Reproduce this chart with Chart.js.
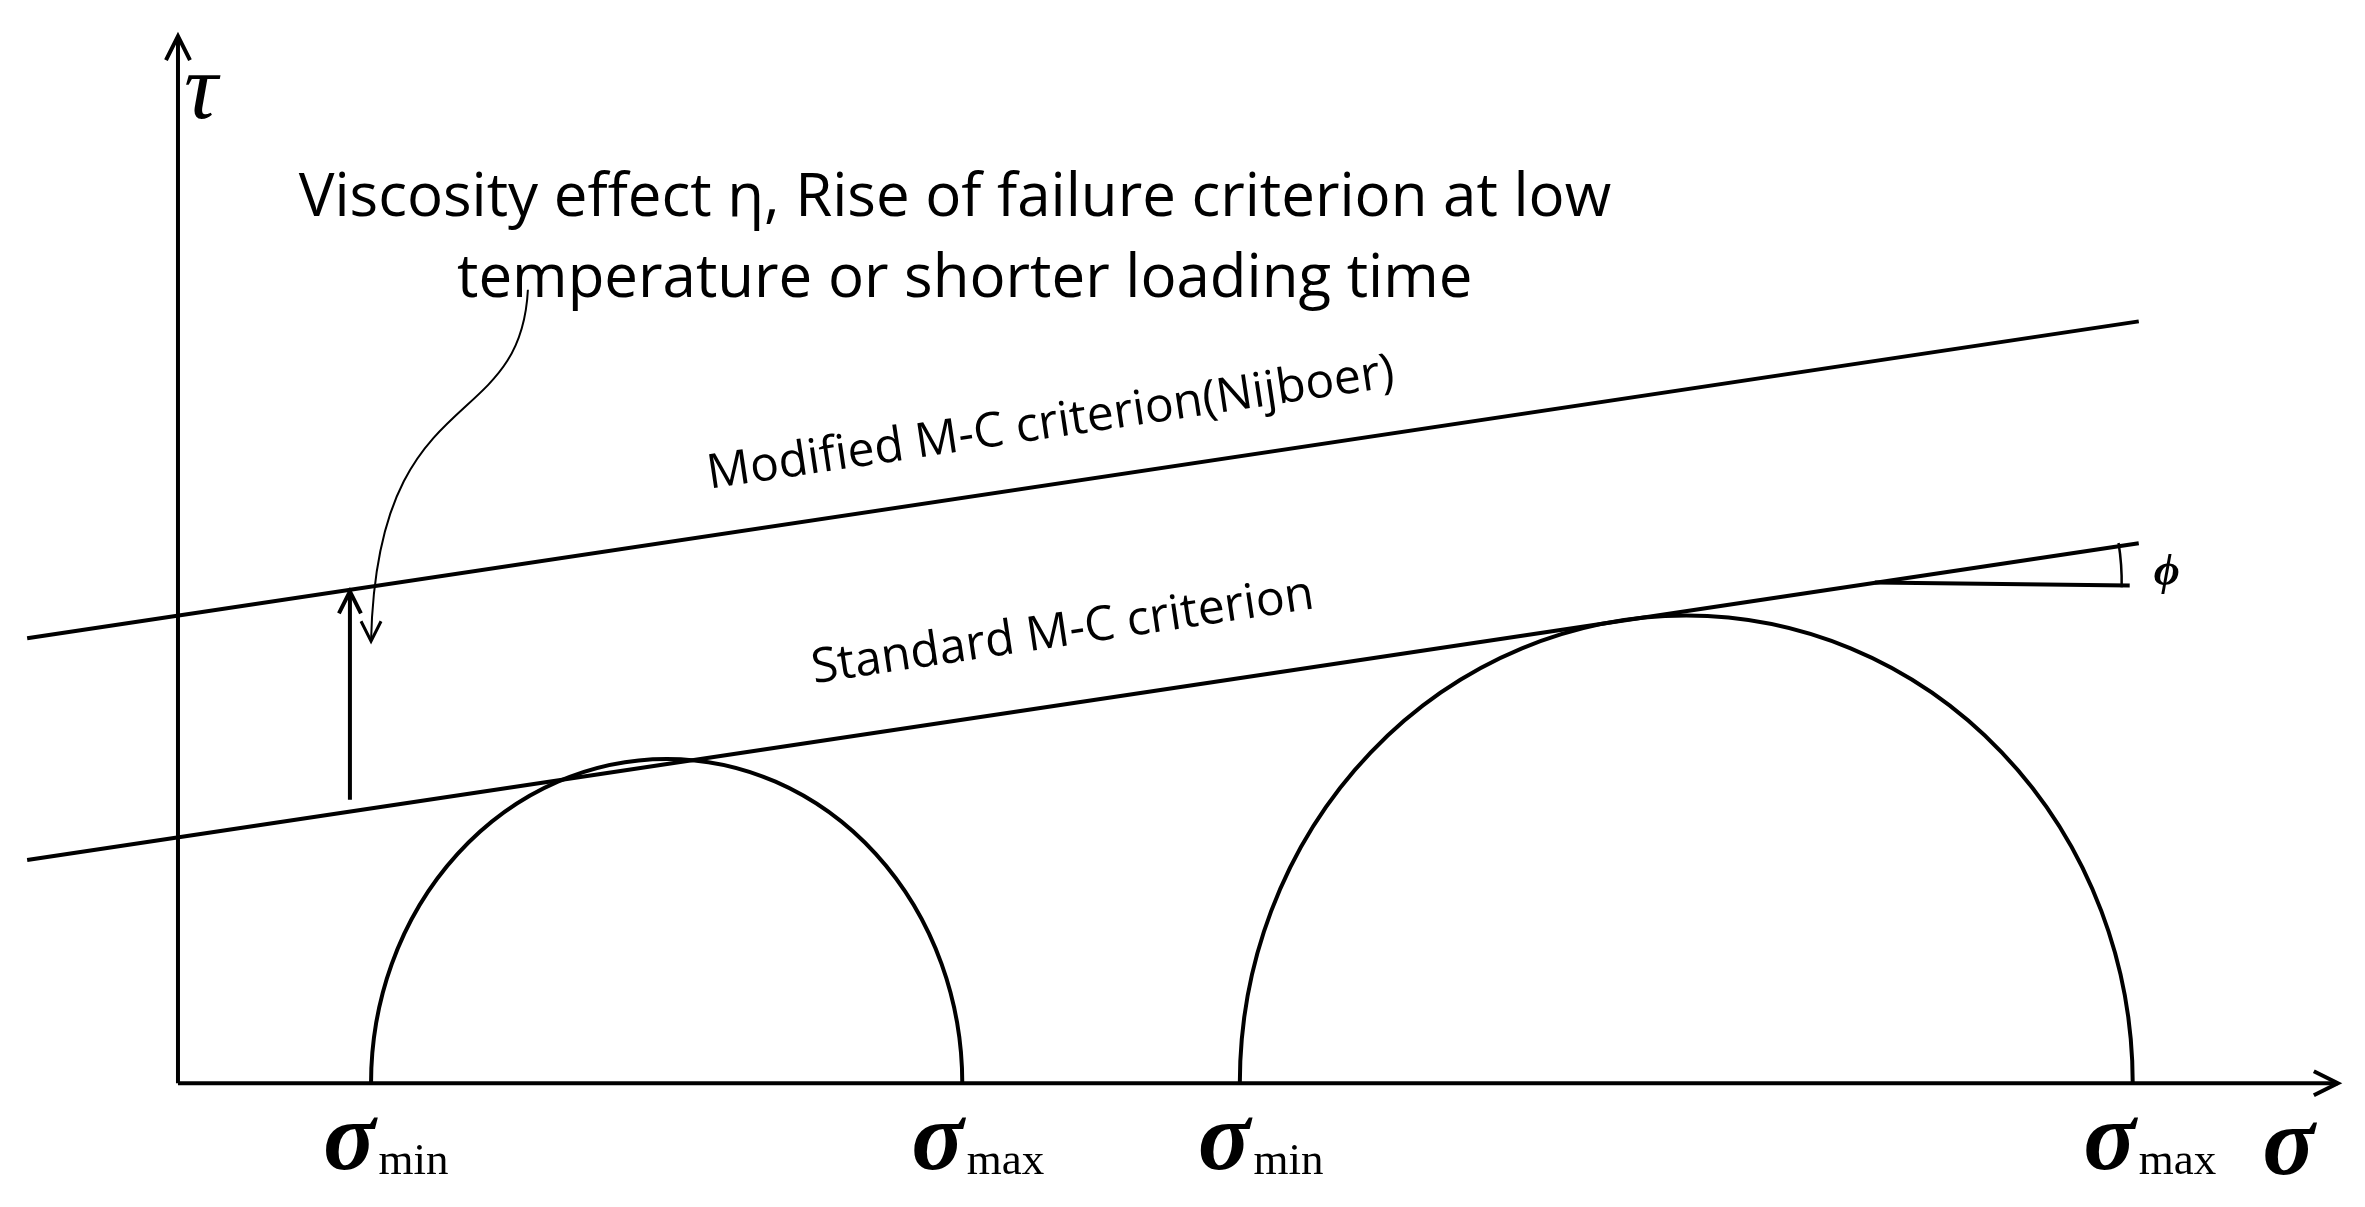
<!DOCTYPE html>
<html><head><meta charset="utf-8">
<script src="https://cdn.jsdelivr.net/npm/chart.js@4"></script>
<style>html,body{margin:0;padding:0;background:#fff}#w{width:2365px;height:1207px}</style>
</head><body><div id="w"><canvas id="c"></canvas></div>
<script>
// Diagram coordinates in a 1568 x 800 data space (y downward)
const axisX = [{x:118,y:718},{x:1550,y:718}];
const axisY = [{x:118,y:718},{x:118,y:24}];
const modifiedLine = [{x:18,y:423},{x:1418,y:213}];
const standardLine = [{x:18,y:570},{x:1418,y:360}];
const phiLine = [{x:1243,y:386},{x:1412,y:388}];
const riseArrow = [{x:232,y:530},{x:232,y:392}];
const curvedArrow = [{x:350,y:192},{x:345,y:290},{x:250,y:250},{x:246,y:425}];
// circles: [sigmaMin, sigmaMax, topY]
const circles = [[246,638,503],[822,1414,408]];
const sigmaLabels = [
  {x:245,sub:'min'},{x:635,sub:'max'},{x:825,sub:'min'},{x:1412,sub:'max'}
];
const texts = [
  {t:'Viscosity effect η, Rise of failure criterion at low',x:198,y:143,size:39.5,rot:0,align:'left'},
  {t:'temperature or shorter loading time',x:303,y:197,size:39.5,rot:0,align:'left'},
  {t:'Modified M-C criterion(Nijboer)',x:698,y:290,size:32,rot:-8.5,align:'center'},
  {t:'Standard M-C criterion',x:706,y:428,size:31.5,rot:-8.5,align:'center'}
];
const S = 2365/1568;
const lineDs = (d)=>({data:d,showLine:true,borderColor:'#000',borderWidth:4,pointRadius:0,fill:false,tension:0});

const plugin = {
  id:'deco',
  afterDatasetsDraw(chart){
    const ctx = chart.ctx, xs = chart.scales.x, ys = chart.scales.y;
    const X = v=>xs.getPixelForValue(v), Y = v=>ys.getPixelForValue(v);
    ctx.save();
    ctx.strokeStyle='#000'; ctx.fillStyle='#000'; ctx.lineWidth=4;
    circles.forEach(([a,b,top])=>{
      const cx=X((a+b)/2), cy=Y(718), rx=Math.abs(X(b)-X(a))/2, ry=Math.abs(cy-Y(top));
      ctx.beginPath(); ctx.ellipse(cx,cy,rx,ry,0,Math.PI,2*Math.PI); ctx.stroke();
    });
    const c=curvedArrow;
    ctx.lineWidth=2;
    ctx.beginPath(); ctx.moveTo(X(c[0].x),Y(c[0].y));
    ctx.bezierCurveTo(X(c[1].x),Y(c[1].y),X(c[2].x),Y(c[2].y),X(c[3].x),Y(c[3].y)); ctx.stroke();
    const head=(x,y,dx,dy,L)=>{
      const n=Math.hypot(dx,dy); dx/=n; dy/=n; const px=-dy,py=dx;
      ctx.beginPath(); ctx.moveTo(x-dx*L+px*L*0.5,y-dy*L+py*L*0.5); ctx.lineTo(x,y);
      ctx.lineTo(x-dx*L-px*L*0.5,y-dy*L-py*L*0.5); ctx.stroke();
    };
    ctx.lineWidth=3;
    head(X(c[3].x),Y(c[3].y),0,1,20);
    ctx.lineWidth=4;
    head(X(riseArrow[1].x),Y(riseArrow[1].y),0,-1,22);
    head(X(axisY[1].x),Y(axisY[1].y),0,-1,24);
    head(X(axisX[1].x),Y(axisX[1].y),1,0,24);
    ctx.lineWidth=2.5;
    ctx.beginPath(); ctx.arc(X(1243),Y(386),X(1412)-X(1243)-8,-0.16,0.02); ctx.stroke();
    ctx.font=`bold italic ${Math.round(30*S)}px "Liberation Serif"`;
    ctx.textAlign='left'; ctx.textBaseline='middle';
    ctx.fillText('ϕ',X(1428),Y(380));
    ctx.font=`italic ${Math.round(62*S)}px "Liberation Serif"`;
    ctx.fillText('τ',X(122),Y(62));
    ctx.textBaseline='alphabetic';
    ctx.font=`bold italic ${Math.round(64*S)}px "Liberation Serif"`;
    ctx.fillText('σ',X(1500),Y(778));
    sigmaLabels.forEach(s=>{
      ctx.font=`bold italic ${Math.round(64*S)}px "Liberation Serif"`;
      ctx.textAlign='right';
      ctx.fillText('σ',X(s.x+4),Y(775));
      ctx.textAlign='left';
      ctx.font=`${Math.round(30*S)}px "Liberation Serif"`;
      ctx.fillText(s.sub,X(s.x+6),Y(778));
    });
    texts.forEach(t=>{
      ctx.save(); ctx.translate(X(t.x),Y(t.y)); ctx.rotate(t.rot*Math.PI/180);
      ctx.font=`${Math.round(t.size*S)}px "Open Sans"`; ctx.textAlign=t.align; ctx.textBaseline='alphabetic';
      ctx.fillText(t.t,0,0); ctx.restore();
    });
    ctx.restore();
  }
};

new Chart(document.getElementById('c'),{
  type:'scatter',
  data:{datasets:[axisX,axisY,modifiedLine,standardLine,phiLine,riseArrow].map(lineDs)},
  options:{
    responsive:true,maintainAspectRatio:false,animation:false,devicePixelRatio:1,
    layout:{padding:0},
    plugins:{legend:{display:false},tooltip:{enabled:false}},
    scales:{
      x:{type:'linear',min:0,max:1568,display:false},
      y:{type:'linear',min:0,max:800,reverse:true,display:false}
    }
  },
  plugins:[plugin]
});
</script></body></html>
